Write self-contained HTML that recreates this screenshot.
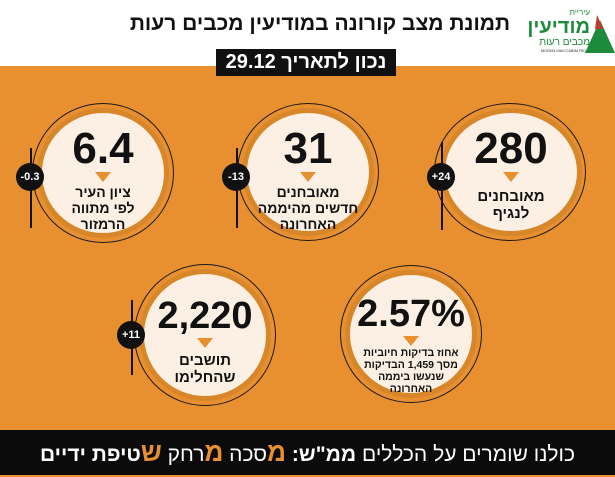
<!DOCTYPE html>
<html><head><meta charset="utf-8"><style>
*{margin:0;padding:0;box-sizing:border-box}
body{width:615px;height:475px;overflow:hidden;position:relative;font-family:"Liberation Sans","Noto Sans CJK SC",sans-serif;background:#e8902f}
.hdr{position:absolute;left:0;top:0;width:615px;height:66px;background:#fff}
.title{position:absolute;left:120px;top:12px;width:400px;text-align:center;font-size:21px;font-weight:bold;color:#111;direction:rtl;white-space:nowrap}
.date{position:absolute;left:216px;top:49px;width:180px;height:27px;background:#111;color:#fff;font-size:20px;font-weight:bold;text-align:center;line-height:27px;direction:rtl}
.foot{position:absolute;left:0;top:430px;width:615px;height:45px;background:#0b0b0b;color:#fff;font-size:21px;line-height:45px;text-align:center;direction:rtl;white-space:nowrap}
.foot b{color:#e8902f;font-size:26px}
.ring{position:absolute;border-radius:50%;background:#fbf0e3;border:5px solid #d8862a}
.outl{position:absolute;border-radius:50%;border:1.5px solid #1a1a1a}
.num{position:absolute;left:0;width:100%;text-align:center;font-weight:bold;color:#111}
.tri{position:absolute;width:0;height:0;border-left:8px solid transparent;border-right:8px solid transparent;border-top:10px solid #e8902f}
.lbl{position:absolute;left:0;width:100%;text-align:center;font-weight:bold;color:#111;direction:rtl;line-height:1.15}
.bad{position:absolute;width:28px;height:28px;border-radius:50%;background:#111;color:#fff;font-size:11px;font-weight:bold;text-align:center;line-height:28px}
.ln{position:absolute;width:1.5px;background:#111}
</style></head><body>
<div class="hdr"></div>
<div class="title">תמונת מצב קורונה במודיעין מכבים רעות</div>
<div class="date">נכון לתאריך 29.12</div>
<div style="position:absolute;left:520px;top:8px;width:70px;text-align:right;color:#1d8a3c;direction:rtl">
<div style="font-size:8px">עיריית</div><div style="font-size:20px;font-weight:bold;line-height:20px">מודיעין</div><div style="font-size:10px">מכבים רעות</div><div style="font-size:4px;color:#333">MODIIN MACCABIM REUT</div></div>
<svg style="position:absolute;left:585px;top:15px" width="30" height="40"><polygon points="15,5 0,38 30,38" fill="#1d8a3c"/><polygon points="12,0 18,14 10,14" fill="#c0392b"/></svg>

<div class="outl" style="left:434px;top:103px;width:152px;height:138px"></div>
<div class="ring" style="left:440px;top:108px;width:142px;height:128px"></div>
<div class="num" style="left:440px;width:142px;top:124px;font-size:44px">280</div>
<div class="tri" style="left:503px;top:172px"></div>
<div class="lbl" style="left:440px;width:142px;top:188px;font-size:15px">מאובחנים<br>לנגיף</div>
<div class="ln" style="left:441px;top:142px;height:88px"></div>
<div class="bad" style="left:427px;top:163px">+24</div>

<div class="outl" style="left:237px;top:103px;width:142px;height:138px"></div>
<div class="ring" style="left:242px;top:108px;width:132px;height:128px"></div>
<div class="num" style="left:242px;width:132px;top:124px;font-size:44px">31</div>
<div class="tri" style="left:300px;top:172px"></div>
<div class="lbl" style="left:242px;width:132px;top:184px;font-size:14px">מאובחנים<br>חדשים מהיממה<br>האחרונה</div>
<div class="ln" style="left:236px;top:148px;height:80px"></div>
<div class="bad" style="left:222px;top:163px">-13</div>

<div class="outl" style="left:32px;top:103px;width:142px;height:140px"></div>
<div class="ring" style="left:37px;top:108px;width:132px;height:130px"></div>
<div class="num" style="left:37px;width:132px;top:124px;font-size:44px">6.4</div>
<div class="tri" style="left:95px;top:172px"></div>
<div class="lbl" style="left:37px;width:132px;top:184px;font-size:14px">ציון העיר<br>לפי מתווה<br>הרמזור</div>
<div class="ln" style="left:30px;top:148px;height:80px"></div>
<div class="bad" style="left:16px;top:163px">-0.3</div>

<div class="outl" style="left:340px;top:265px;width:142px;height:138px"></div>
<div class="ring" style="left:345px;top:270px;width:132px;height:128px"></div>
<div class="num" style="left:345px;width:132px;top:293px;font-size:38px">2.57%</div>
<div class="tri" style="left:403px;top:336px"></div>
<div class="lbl" style="left:345px;width:132px;top:347px;font-size:10.5px">אחוז בדיקות חיוביות<br>מסך 1,459 הבדיקות<br>שנעשו ביממה<br>האחרונה</div>

<div class="outl" style="left:134px;top:264px;width:142px;height:142px"></div>
<div class="ring" style="left:139px;top:269px;width:132px;height:132px"></div>
<div class="num" style="left:139px;width:132px;top:295px;font-size:38px">2,220</div>
<div class="tri" style="left:197px;top:338px"></div>
<div class="lbl" style="left:139px;width:132px;top:352px;font-size:15px">תושבים<br>שהחלימו</div>
<div class="ln" style="left:131px;top:300px;height:75px"></div>
<div class="bad" style="left:117px;top:321px">+11</div>

<div class="foot">כולנו שומרים על הכללים <span style="font-weight:bold">ממ"ש:</span> <b>מ</b>סכה <b>מ</b>רחק <b>ש</b><span style="font-weight:bold">טיפת ידיים</span></div>
</body></html>
